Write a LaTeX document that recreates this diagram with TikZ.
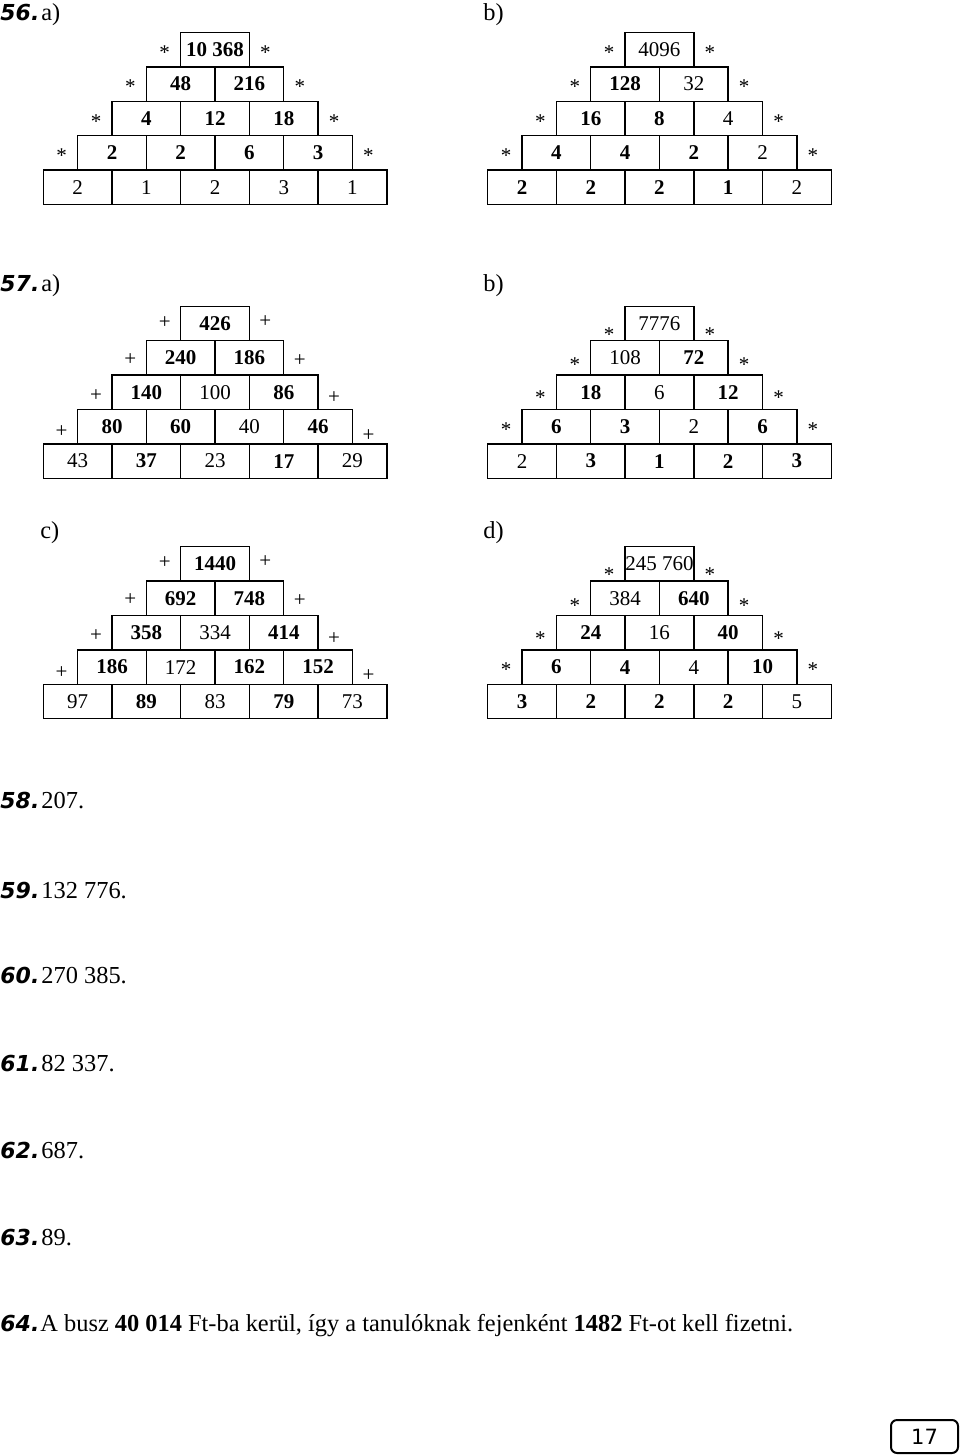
\documentclass[tikz,border=0pt]{standalone}
\usepackage{fontspec}
\setmainfont{Liberation Serif}
\newfontfamily\labelfont{DejaVu Sans}
\usetikzlibrary{positioning}

\tikzset{
  cell/.style={minimum width=34.35pt, minimum height=17.2pt, inner sep=0pt, outer sep=0pt,
    font=\fontsize{10.5}{12}\selectfont},
  grid/.style={line width=0.7pt},
  op/.style={inner sep=0pt, font=\fontsize{10.5}{12}\selectfont},
  star/.style={op, yshift=-1.5pt},
  numlabel/.style={anchor=base west, inner sep=0pt,
    font=\labelfont\bfseries\itshape\fontsize{11}{13}\selectfont},
  ans/.style={anchor=base west, inner sep=0pt, font=\fontsize{12.2}{14}\selectfont},
  pagebox/.style={draw, line width=1pt, rounded corners=3pt, minimum width=33.5pt,
    minimum height=16.5pt, inner sep=0pt, font=\labelfont\fontsize{10.5}{12}\selectfont}
}

\begin{document}
\begin{tikzpicture}[x=0.5pt, y=-0.5pt]
\useasboundingbox (0,0) rectangle (960,1455);

% 56.
\node[numlabel] (n56) at (0,21) {56.};
\node[ans] (l56a) at (41,21) {a)};
\node[ans] (l56b) at (483,21) {b)};

\begin{scope}[shift={(43.3,204.5)}]
\foreach \r/\c/\t in {1/1/\textbf{10 368}, 2/1/\textbf{48}, 2/2/\textbf{216},
    3/1/\textbf{4}, 3/2/\textbf{12}, 3/3/\textbf{18},
    4/1/\textbf{2}, 4/2/\textbf{2}, 4/3/\textbf{6}, 4/4/\textbf{3},
    5/1/2, 5/2/1, 5/3/2, 5/4/3, 5/5/1}
  \node[cell] (pa\r\c) at ({(5-\r)*34.35+(\c-0.5)*68.7}, {-(5.5-\r)*34.4}) {\t};
\end{scope}
\draw[grid] foreach \r in {1,...,5} {foreach \c in {1,...,\r} {(pa\r\c.north west) rectangle (pa\r\c.south east)}};
\foreach \r/\dl/\dr in {1/0/0, 2/0/0, 3/0/0, 4/0/0} {
  \node[star] (pal\r) at ([xshift=-8pt, yshift=\dl pt]pa\r1.west) {*};
  \node[star] (par\r) at ([xshift=8pt, yshift=\dr pt]pa\r\r.east) {*};
}

\begin{scope}[shift={(487.7,204.5)}]
\foreach \r/\c/\t in {1/1/4096, 2/1/\textbf{128}, 2/2/32,
    3/1/\textbf{16}, 3/2/\textbf{8}, 3/3/4,
    4/1/\textbf{4}, 4/2/\textbf{4}, 4/3/\textbf{2}, 4/4/2,
    5/1/\textbf{2}, 5/2/\textbf{2}, 5/3/\textbf{2}, 5/4/\textbf{1}, 5/5/2}
  \node[cell] (pb\r\c) at ({(5-\r)*34.35+(\c-0.5)*68.7}, {-(5.5-\r)*34.4}) {\t};
\end{scope}
\draw[grid] foreach \r in {1,...,5} {foreach \c in {1,...,\r} {(pb\r\c.north west) rectangle (pb\r\c.south east)}};
\foreach \r/\dl/\dr in {1/0/0, 2/0/0, 3/0/0, 4/0/0} {
  \node[star] (pbl\r) at ([xshift=-8pt, yshift=\dl pt]pb\r1.west) {*};
  \node[star] (pbr\r) at ([xshift=8pt, yshift=\dr pt]pb\r\r.east) {*};
}

% 57.
\node[numlabel] (n57) at (0,292) {57.};
\node[ans] (l57a) at (41,292) {a)};
\node[ans] (l57b) at (483,292) {b)};

\begin{scope}[shift={(43.3,478.3)}]
\foreach \r/\c/\t in {1/1/\textbf{426}, 2/1/\textbf{240}, 2/2/\textbf{186},
    3/1/\textbf{140}, 3/2/100, 3/3/\textbf{86},
    4/1/\textbf{80}, 4/2/\textbf{60}, 4/3/40, 4/4/\textbf{46},
    5/1/43, 5/2/\textbf{37}, 5/3/23, 5/4/\textbf{17}, 5/5/29}
  \node[cell] (qa\r\c) at ({(5-\r)*34.35+(\c-0.5)*68.7}, {-(5.5-\r)*34.4}) {\t};
\end{scope}
\draw[grid] foreach \r in {1,...,5} {foreach \c in {1,...,\r} {(qa\r\c.north west) rectangle (qa\r\c.south east)}};
\foreach \r/\dl/\dr in {1/0.7/1, 2/-0.7/-1.2, 3/-1.5/-2.8, 4/-2.5/-4.2} {
  \node[op] (qal\r) at ([xshift=-8pt, yshift=\dl pt]qa\r1.west) {+};
  \node[op] (qar\r) at ([xshift=8pt, yshift=\dr pt]qa\r\r.east) {+};
}

\begin{scope}[shift={(487.7,478.3)}]
\foreach \r/\c/\t in {1/1/7776, 2/1/108, 2/2/\textbf{72},
    3/1/\textbf{18}, 3/2/6, 3/3/\textbf{12},
    4/1/\textbf{6}, 4/2/\textbf{3}, 4/3/2, 4/4/\textbf{6},
    5/1/2, 5/2/\textbf{3}, 5/3/\textbf{1}, 5/4/\textbf{2}, 5/5/\textbf{3}}
  \node[cell] (qb\r\c) at ({(5-\r)*34.35+(\c-0.5)*68.7}, {-(5.5-\r)*34.4}) {\t};
\end{scope}
\draw[grid] foreach \r in {1,...,5} {foreach \c in {1,...,\r} {(qb\r\c.north west) rectangle (qb\r\c.south east)}};
\foreach \r/\dl/\dr in {1/-4/-4, 2/-2/-2, 3/-1.2/-1.2, 4/0/0} {
  \node[star] (qbl\r) at ([xshift=-8pt, yshift=\dl pt]qb\r1.west) {*};
  \node[star] (qbr\r) at ([xshift=8pt, yshift=\dr pt]qb\r\r.east) {*};
}

\node[ans] (l57c) at (40,538) {c)};
\node[ans] (l57d) at (483,538) {d)};

\begin{scope}[shift={(43.3,718.7)}]
\foreach \r/\c/\t in {1/1/\textbf{1440}, 2/1/\textbf{692}, 2/2/\textbf{748},
    3/1/\textbf{358}, 3/2/334, 3/3/\textbf{414},
    4/1/\textbf{186}, 4/2/172, 4/3/\textbf{162}, 4/4/\textbf{152},
    5/1/97, 5/2/\textbf{89}, 5/3/83, 5/4/\textbf{79}, 5/5/73}
  \node[cell] (qc\r\c) at ({(5-\r)*34.35+(\c-0.5)*68.7}, {-(5.5-\r)*34.4}) {\t};
\end{scope}
\draw[grid] foreach \r in {1,...,5} {foreach \c in {1,...,\r} {(qc\r\c.north west) rectangle (qc\r\c.south east)}};
\foreach \r/\dl/\dr in {1/0.7/1, 2/-0.7/-1.2, 3/-1.5/-2.8, 4/-2.5/-4.2} {
  \node[op] (qcl\r) at ([xshift=-8pt, yshift=\dl pt]qc\r1.west) {+};
  \node[op] (qcr\r) at ([xshift=8pt, yshift=\dr pt]qc\r\r.east) {+};
}

\begin{scope}[shift={(487.7,718.7)}]
\foreach \r/\c/\t in {1/1/245 760, 2/1/384, 2/2/\textbf{640},
    3/1/\textbf{24}, 3/2/16, 3/3/\textbf{40},
    4/1/\textbf{6}, 4/2/\textbf{4}, 4/3/4, 4/4/\textbf{10},
    5/1/\textbf{3}, 5/2/\textbf{2}, 5/3/\textbf{2}, 5/4/\textbf{2}, 5/5/5}
  \node[cell] (qd\r\c) at ({(5-\r)*34.35+(\c-0.5)*68.7}, {-(5.5-\r)*34.4}) {\t};
\end{scope}
\draw[grid] foreach \r in {1,...,5} {foreach \c in {1,...,\r} {(qd\r\c.north west) rectangle (qd\r\c.south east)}};
\foreach \r/\dl/\dr in {1/-4/-4, 2/-2/-2, 3/-1.5/-1.5, 4/0/0} {
  \node[star] (qdl\r) at ([xshift=-8pt, yshift=\dl pt]qd\r1.west) {*};
  \node[star] (qdr\r) at ([xshift=8pt, yshift=\dr pt]qd\r\r.east) {*};
}

% 58.--64.
\node[numlabel] (n58) at (0,808) {58.};
\node[ans] (t58) at (41,808) {207.};
\node[numlabel] (n59) at (0,898) {59.};
\node[ans] (t59) at (41,898) {132 776.};
\node[numlabel] (n60) at (0,983) {60.};
\node[ans] (t60) at (41,983) {270 385.};
\node[numlabel] (n61) at (0,1071.5) {61.};
\node[ans] (t61) at (41,1071.5) {82 337.};
\node[numlabel] (n62) at (0,1158) {62.};
\node[ans] (t62) at (41,1158) {687.};
\node[numlabel] (n63) at (0,1245) {63.};
\node[ans] (t63) at (41,1245) {89.};
\node[numlabel] (n64) at (0,1331) {64.};
\node[ans] (t64) at (40,1331) {A busz \textbf{40 014} Ft-ba kerül, így a tanulóknak fejenként \textbf{1482} Ft-ot kell fizetni.};

\node[pagebox] (page) at (924.5,1436.5) {17};
\end{tikzpicture}
\end{document}
